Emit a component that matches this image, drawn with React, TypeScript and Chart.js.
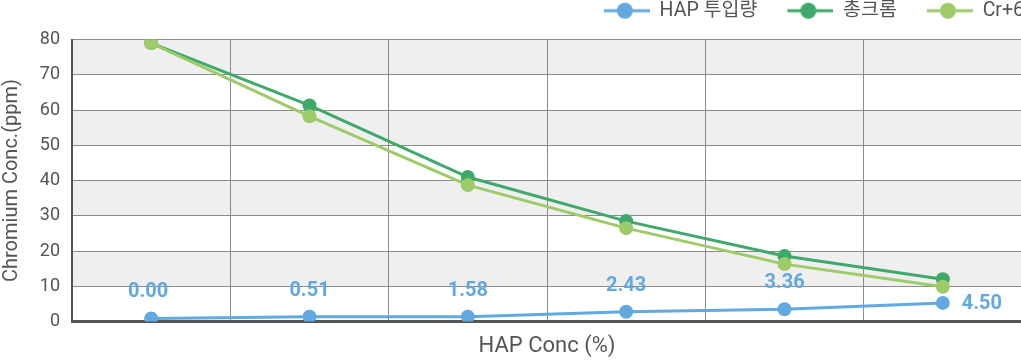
import React, { useEffect, useRef } from "react";
import { Chart, registerables } from "chart.js";

Chart.register(...registerables);

const categories = ["0.00", "0.51", "1.58", "2.43", "3.36", "4.50"];
const hapLabels = ["0.00", "0.51", "1.58", "2.43", "3.36", "4.50"];
const hapValues = [0.9, 1.4, 1.4, 2.8, 3.5, 5.3];
const totalChromium = [79.0, 61.3, 41.0, 28.5, 18.6, 12.0];
const hexavalentChromium = [79.0, 58.2, 38.7, 26.5, 16.3, 9.9];
const seriesNames = ["HAP 투입량", "총크롬", "Cr+6"];
const seriesColors = ["#63a9e1", "#3ea96a", "#9dcb68"];
const yTicks = [0, 10, 20, 30, 40, 50, 60, 70, 80];

const FONT = "Roboto, 'Noto Sans CJK KR', sans-serif";
const TEXT = "#555555";

function makeLegendIcon(color: string) {
  const c = document.createElement("canvas");
  c.width = 66;
  c.height = 18;
  const ctx = c.getContext("2d")!;
  ctx.strokeStyle = color;
  ctx.lineWidth = 3;
  ctx.beginPath();
  ctx.moveTo(20, 9);
  ctx.lineTo(66, 9);
  ctx.stroke();
  ctx.fillStyle = color;
  ctx.beginPath();
  ctx.arc(41, 9, 8, 0, Math.PI * 2);
  ctx.fill();
  return c;
}

const bandPlugin = {
  id: "bands",
  beforeDraw(chart: any) {
    const { ctx, chartArea, scales } = chart;
    const y = scales.y;
    ctx.save();
    ctx.fillStyle = "#efefef";
    for (let v = 10; v < 80; v += 20) {
      const top = y.getPixelForValue(v + 10);
      const bot = y.getPixelForValue(v);
      ctx.fillRect(chartArea.left, top, chartArea.right - chartArea.left, bot - top);
    }
    ctx.restore();
  },
  afterLayout(chart: any) {
    const l = chart.legend;
    if (l) {
      l.left += 12;
      l.right += 12;
      l.top -= 9;
      l.bottom -= 9;
    }
  },
};

const labelPlugin = {
  id: "hapLabels",
  afterDatasetsDraw(chart: any) {
    const { ctx } = chart;
    const meta = chart.getDatasetMeta(0);
    ctx.save();
    ctx.font = `bold 20px ${FONT}`;
    ctx.fillStyle = seriesColors[0];
    ctx.textBaseline = "middle";
    meta.data.forEach((pt: any, i: number) => {
      if (i === meta.data.length - 1) {
        ctx.textAlign = "left";
        ctx.fillText(hapLabels[i], pt.x + 19, pt.y + 1);
      } else {
        ctx.textAlign = "center";
        ctx.fillText(hapLabels[i], pt.x - (i === 0 ? 3 : 0), pt.y - 26);
      }
    });
    ctx.restore();
  },
};

export default function App() {
  const ref = useRef<HTMLCanvasElement>(null);
  useEffect(() => {
    if (!ref.current) return;
    const icons = seriesColors.map(makeLegendIcon);
    const mk = (i: number, data: number[], order: number) => ({
      label: seriesNames[i],
      data,
      borderColor: seriesColors[i],
      backgroundColor: seriesColors[i],
      pointBackgroundColor: seriesColors[i],
      pointBorderWidth: 0,
      pointRadius: 7,
      borderWidth: 3,
      order,
    });
    const chart = new Chart(ref.current, {
      type: "line",
      data: {
        labels: categories,
        datasets: [mk(0, hapValues, 0), mk(1, totalChromium, 2), mk(2, hexavalentChromium, 1)],
      },
      options: {
        animation: false,
        responsive: false,
        maintainAspectRatio: false,
        layout: { padding: { top: 0, right: 8, left: 0, bottom: 0 } },
        plugins: {
          tooltip: { enabled: false },
          legend: {
            position: "top",
            align: "end",
            labels: {
              usePointStyle: true,
              pointStyleWidth: 66,
              padding: 10,
              color: TEXT,
              font: { family: FONT, size: 19.5 },
              sort: (a: any, b: any) => a.datasetIndex - b.datasetIndex,
              generateLabels: (chart: any) => {
                const items = Chart.defaults.plugins.legend.labels.generateLabels(chart);
                return items.map((it: any) => ({ ...it, pointStyle: icons[it.datasetIndex] }));
              },
            },
          },
        },
        scales: {
          x: {
            type: "category",
            offset: true,
            grid: { offset: true, color: "#8c8c8c", drawTicks: false, lineWidth: 1 },
            border: { display: true, color: "#555555", width: 3 },
            ticks: { display: false },
            title: {
              display: true,
              text: "HAP Conc (%)",
              color: TEXT,
              font: { family: FONT, size: 22 },
              padding: { top: 12, bottom: 0 },
            },
          },
          y: {
            min: 0,
            max: 80,
            afterBuildTicks: (scale: any) => {
              scale.ticks = yTicks.map((v) => ({ value: v }));
            },
            afterFit: (scale: any) => {
              scale.width = 72;
            },
            grid: { color: "#8c8c8c", drawTicks: false, lineWidth: 1 },
            border: { display: true, color: "#555555", width: 2 },
            ticks: {
              padding: 12,
              color: TEXT,
              font: { family: FONT, size: 18 },
            },
            title: {
              display: true,
              text: "Chromium Conc.(ppm)",
              color: TEXT,
              font: { family: FONT, size: 20 },
              padding: { top: 0, bottom: 4 },
            },
          },
        },
      },
      plugins: [bandPlugin, labelPlugin],
    });
    return () => chart.destroy();
  }, []);
  return (
    <div style={{ position: "absolute", left: 0, top: 0, width: 1021, height: 360, overflow: "hidden" }}>
      <canvas ref={ref} width={1030} height={360} style={{ display: "block", width: 1030, height: 360 }} />
    </div>
  );
}
